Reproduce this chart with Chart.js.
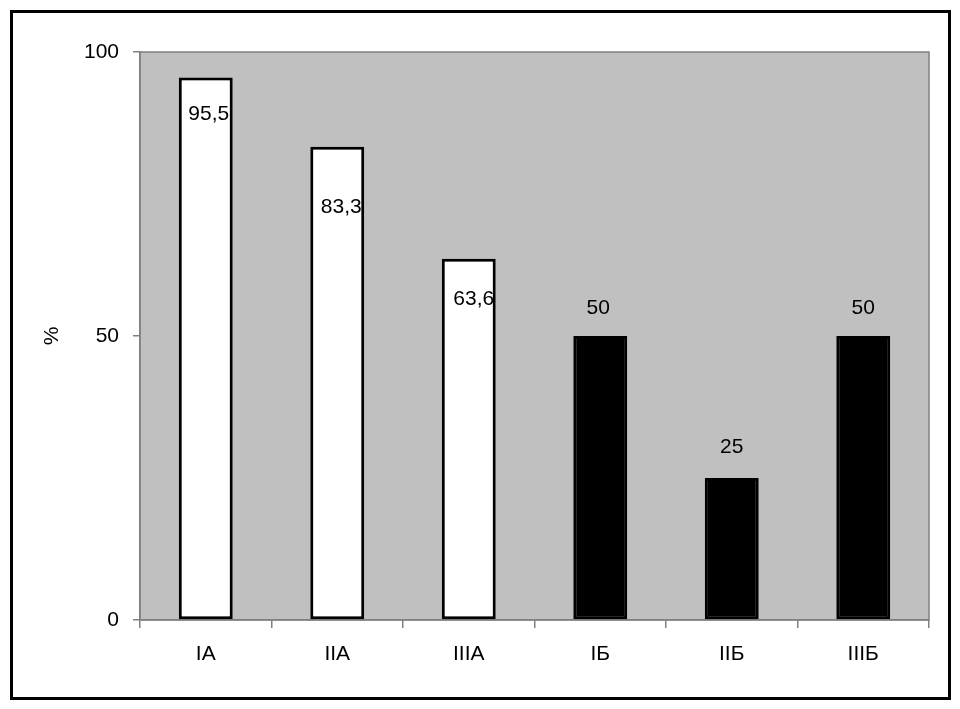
<!DOCTYPE html>
<html>
<head>
<meta charset="utf-8">
<script src="https://cdn.jsdelivr.net/npm/chart.js@4/dist/chart.umd.min.js"></script>
<style>
  html, body { margin: 0; padding: 0; background: #fff; }
  #wrap { width: 960px; height: 709px; }
</style>
</head>
<body>
<div id="wrap"><canvas id="chart"></canvas></div>
<script>
const categories = ['IA', 'IIA', 'IIIA', 'IБ', 'IIБ', 'IIIБ'];
const percents = [95.5, 83.3, 63.6, 50, 25, 50];
const valueLabels = ['95,5', '83,3', '63,6', '50', '25', '50'];
const yTicks = [0, 50, 100];

const FONT = 'Arial, "Liberation Sans", sans-serif';
const fills = percents.map((v, i) => i < 3 ? '#ffffff' : '#000000');

// where each value label sits relative to the top of its bar
const labelShift = [[3, 37], [4, 60], [5, 40], [-2, -28], [0, -31], [0, -28]];

const frame = {
  id: 'frame',
  beforeDraw(chart) {
    const { ctx, chartArea: a } = chart;
    ctx.save();
    ctx.fillStyle = '#c0c0c0';
    ctx.fillRect(a.left, a.top, a.right - a.left, a.bottom - a.top);
    ctx.strokeStyle = '#808080';
    ctx.lineWidth = 1.5;
    ctx.strokeRect(a.left, a.top, a.right - a.left, a.bottom - a.top);
    ctx.strokeStyle = '#000';
    ctx.lineWidth = 3;
    ctx.strokeRect(11.5, 11.5, 938, 687);
    ctx.restore();
  },
  afterDatasetsDraw(chart) {
    const { ctx } = chart;
    const bars = chart.getDatasetMeta(0).data;
    ctx.save();
    ctx.font = '21px ' + FONT;
    ctx.fillStyle = '#000';
    ctx.textAlign = 'center';
    ctx.textBaseline = 'middle';
    bars.forEach((b, i) => {
      const [dx, dy] = labelShift[i];
      ctx.fillText(valueLabels[i], b.x + dx, b.y + dy);
    });
    ctx.restore();
  }
};

new Chart(document.getElementById('chart'), {
  type: 'bar',
  data: {
    labels: categories,
    datasets: [{
      data: percents,
      backgroundColor: fills,
      borderColor: '#000',
      borderWidth: 3,
      borderSkipped: false,
      categoryPercentage: 1,
      barPercentage: 0.41
    }]
  },
  options: {
    responsive: true,
    maintainAspectRatio: false,
    animation: false,
    layout: { padding: { left: 40, top: 52, right: 31, bottom: 0 } },
    plugins: { legend: { display: false }, tooltip: { enabled: false } },
    scales: {
      x: {
        afterFit: s => { s.height = 89; },
        grid: { offset: true, drawOnChartArea: false, drawTicks: true, tickLength: 8, color: '#808080', lineWidth: 1.5 },
        border: { color: '#808080', width: 1.5 },
        ticks: { color: '#000', font: { size: 21, family: FONT }, padding: 14 }
      },
      y: {
        min: 0, max: 100,
        afterFit: s => { s.width = 100; },
        afterBuildTicks: s => { s.ticks = yTicks.map(v => ({ value: v })); },
        grid: { drawOnChartArea: false, drawTicks: true, tickLength: 7, color: '#808080', lineWidth: 1.5 },
        border: { color: '#808080', width: 1.5 },
        ticks: { color: '#000', font: { size: 21, family: FONT }, padding: 14 },
        title: { display: true, text: '%', color: '#000', font: { size: 21, family: FONT }, padding: 0 }
      }
    }
  },
  plugins: [frame]
});
</script>
</body>
</html>
